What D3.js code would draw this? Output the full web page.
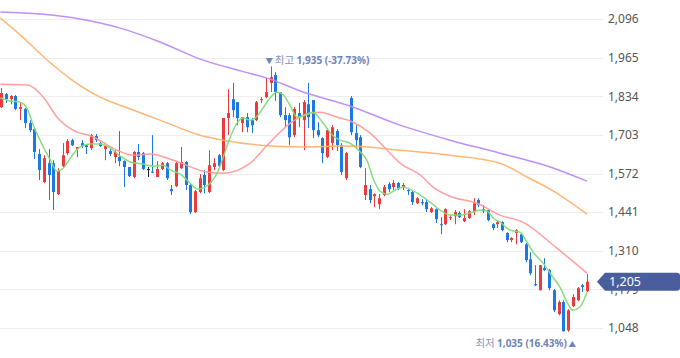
<!DOCTYPE html>
<html><head><meta charset="utf-8">
<script src="https://cdn.jsdelivr.net/npm/d3@7"></script>
<style>body{margin:0;background:#fff;overflow:hidden} svg{display:block}</style>
</head><body><svg id="c" width="680" height="358"></svg>
<script>
// ---- data (OHLC per session) ----
const openV  = [1797,1841,1824,1835,1791,1791,1743,1723,1638,1543,1607,1607,1502,1597,1641,1685,1655,1675,1668,1658,1699,1675,1655,1648,1628,1628,1614,1594,1560,1645,1641,1587,1578,1560,1587,1607,1519,1529,1590,1611,1533,1441,1509,1567,1509,1594,1634,1584,1760,1824,1814,1743,1763,1753,1753,1821,1831,1879,1906,1848,1770,1770,1702,1777,1753,1807,1821,1719,1692,1628,1675,1716,1668,1556,1828,1709,1695,1499,1519,1495,1468,1499,1536,1526,1540,1526,1516,1509,1471,1475,1475,1441,1451,1400,1400,1421,1427,1438,1410,1421,1441,1482,1451,1448,1400,1400,1407,1370,1346,1370,1366,1332,1281,1197,1176,1251,1244,1176,1095,1136,1040,1122,1142,1193,1173];
const highV  = [1862,1845,1838,1838,1811,1794,1753,1726,1655,1634,1655,1617,1590,1675,1689,1689,1662,1685,1672,1706,1706,1679,1668,1658,1651,1716,1617,1594,1648,1672,1645,1594,1702,1614,1611,1611,1533,1611,1662,1614,1536,1516,1570,1584,1651,1624,1638,1760,1858,1879,1814,1763,1777,1760,1818,1831,1896,1935,1916,1848,1797,1777,1797,1811,1821,1879,1821,1746,1695,1726,1736,1723,1675,1645,1835,1736,1702,1590,1533,1505,1502,1533,1543,1550,1543,1540,1519,1512,1492,1485,1485,1458,1454,1424,1454,1431,1448,1444,1451,1448,1488,1488,1465,1448,1404,1414,1410,1373,1356,1383,1370,1336,1305,1261,1261,1285,1248,1180,1142,1142,1112,1163,1187,1197,1231];
const lowV   = [1794,1811,1807,1787,1753,1726,1712,1621,1550,1539,1482,1448,1499,1594,1634,1665,1628,1658,1638,1651,1679,1662,1617,1631,1607,1597,1526,1560,1556,1617,1584,1560,1573,1560,1584,1550,1499,1526,1587,1516,1434,1438,1505,1505,1505,1584,1594,1580,1702,1763,1736,1712,1712,1709,1750,1811,1828,1848,1818,1763,1729,1668,1695,1729,1651,1726,1692,1695,1607,1624,1651,1648,1567,1550,1702,1658,1590,1482,1471,1458,1451,1495,1509,1516,1516,1516,1499,1465,1468,1465,1441,1438,1404,1366,1397,1414,1400,1421,1407,1417,1431,1458,1438,1410,1380,1387,1376,1339,1339,1332,1336,1271,1227,1190,1176,1241,1176,1102,1091,1036,1035,1119,1139,1170,1170];
const closeV = [1845,1824,1835,1791,1797,1743,1719,1645,1584,1624,1567,1509,1580,1634,1682,1668,1662,1665,1662,1702,1685,1665,1665,1638,1645,1614,1594,1563,1645,1628,1587,1587,1575,1587,1607,1556,1512,1607,1611,1533,1441,1512,1556,1533,1600,1607,1597,1760,1777,1787,1760,1763,1729,1736,1814,1824,1848,1899,1848,1770,1753,1695,1791,1763,1814,1763,1719,1702,1641,1719,1729,1668,1577,1641,1712,1685,1594,1533,1482,1502,1488,1526,1519,1540,1522,1533,1512,1475,1488,1471,1451,1454,1417,1397,1451,1424,1441,1424,1421,1444,1471,1465,1444,1414,1387,1407,1380,1346,1353,1380,1339,1278,1234,1193,1261,1244,1183,1108,1136,1037,1108,1153,1183,1187,1205];

// moving averages: [session index, value]
const ma5 = [[-0.2,1828],[1.9,1818],[4,1814],[5.5,1791],[6.8,1735],[8.9,1662],[10.4,1617],[11.8,1580],[13.1,1590],[14.6,1624],[16.7,1662],[18.8,1672],[20.9,1672],[23.1,1658],[25.2,1631],[27.3,1611],[30,1604],[32.2,1597],[34.3,1600],[35.8,1584],[37.9,1570],[40,1539],[41.5,1519],[43.2,1526],[44.6,1546],[45.7,1573],[47,1628],[48.5,1696],[49.9,1743],[51.2,1760],[52.7,1753],[54.2,1767],[55.4,1794],[56.9,1828],[58.4,1848],[59.7,1838],[61.2,1801],[62.6,1763],[63.9,1767],[66,1780],[68.1,1743],[70.3,1699],[71.7,1685],[73.8,1675],[76,1645],[77.4,1617],[78.7,1556],[80.2,1512],[81.7,1502],[83.4,1516],[85.1,1526],[86.5,1519],[88.7,1499],[90.8,1475],[92.9,1448],[95,1431],[97.1,1431],[99.2,1438],[101.4,1448],[102.9,1444],[104.1,1421],[105.6,1407],[107.7,1380],[109.8,1373],[111.3,1339],[112.6,1305],[114.7,1268],[116.8,1220],[118.3,1186],[119.8,1135],[121,1108],[122.5,1119],[124,1169]];
const ma20 = [[-0.2,1875],[5.5,1872],[8.9,1831],[11.8,1763],[15.2,1719],[19.5,1696],[24.5,1651],[27.9,1634],[31.5,1638],[36.4,1617],[43.6,1577],[47,1573],[52.7,1607],[56.3,1668],[61.2,1743],[65.4,1777],[67.5,1780],[71.1,1763],[74.5,1746],[78.1,1709],[81.7,1651],[84.4,1607],[88.7,1567],[91.4,1526],[95,1495],[100.7,1471],[105.6,1431],[110.4,1407],[117.6,1319],[124,1234]];
const ma60 = [[-0.2,2099],[4,2042],[9.7,1957],[15,1889],[20.9,1831],[27.3,1791],[33.6,1753],[42.1,1702],[47,1685],[54.8,1668],[63.3,1662],[73.8,1665],[84.4,1651],[95,1634],[105.6,1607],[111.3,1560],[116.2,1519],[124,1434]];
const ma120 = [[-0.2,2120],[8.3,2113],[16.7,2096],[25.2,2065],[33.6,2018],[42.1,1960],[50.6,1920],[56.9,1892],[63.3,1852],[73.8,1801],[84.4,1736],[95,1685],[105.6,1641],[116.2,1594],[124,1546]];

const yTicks = [2096,1965,1834,1703,1572,1441,1310,1179,1048];
const lastPrice = 1205;
const highIdx = 57, highVal = 1935, highPct = "-37.73%";
const lowIdx = 120, lowVal = 1035, lowPct = "16.43%";

// ---- drawing ----
const svg = d3.select("#c");
const W = 680, H = 358;
const x = d3.scaleLinear().domain([0, openV.length - 1]).range([1.3, 587]);
const y = d3.scaleLinear().domain([1048, 2096]).range([328, 19]);
const fmt = d3.format(",");

const UP = "#ec3a3f", DOWN = "#1b78e4", FLAT = "#222";

// grid
svg.append("g").selectAll("line").data(yTicks).join("line")
  .attr("x1", 0).attr("x2", 603)
  .attr("y1", d => Math.round(y(d)) + 0.5).attr("y2", d => Math.round(y(d)) + 0.5)
  .attr("stroke", "#eeeeee").attr("stroke-width", 1);

// axis labels
const axis = d3.axisRight(y).tickValues(yTicks).tickFormat(fmt).tickSize(0).tickPadding(0);
const ag = svg.append("g").attr("transform", "translate(608,0)").call(axis);
ag.select(".domain").remove();
ag.selectAll("text").attr("fill", "#555").style("font-family", "'Noto Sans', 'DejaVu Sans', sans-serif").style("font-size", "12px");

const plot = svg.append("g");
plot.append("clipPath").attr("id", "pc").append("rect").attr("x", 0).attr("y", 0).attr("width", 595).attr("height", H);
const pg = plot.append("g").attr("clip-path", "url(#pc)");

// candles
const idx = d3.range(openV.length);
const cg = pg.append("g");
idx.forEach(i => {
  const o = openV[i], c = closeV[i], h = highV[i], l = lowV[i];
  const col = c > o ? UP : (c < o ? DOWN : FLAT);
  const cx = Math.round(x(i));
  cg.append("line").attr("x1", cx + 0.5).attr("x2", cx + 0.5)
    .attr("y1", y(h)).attr("y2", y(l)).attr("stroke", col).attr("stroke-width", 1);
  const top = y(Math.max(o, c)), bot = y(Math.min(o, c));
  cg.append("rect").attr("x", cx - 1).attr("width", 3)
    .attr("y", top).attr("height", Math.max(1, bot - top)).attr("fill", col);
});

// moving averages
const line = d3.line().x(d => x(d[0])).y(d => y(d[1])).curve(d3.curveMonotoneX);
const maDefs = [
  [ma120, "#b98af7"],
  [ma60, "#ffb26e"],
  [ma20, "#ff9a9a"],
  [ma5, "#7fdc78"]
];
maDefs.forEach(([d, col]) => {
  pg.append("path").datum(d).attr("d", line).attr("fill", "none")
    .attr("stroke", col).attr("stroke-width", 1.5).attr("stroke-opacity", 0.95);
});

// high / low annotations
const ANN = "#6f82b9", ANN2 = "#8692b8";
const af = "'Noto Sans CJK KR', 'Noto Sans', sans-serif";
const nf = "'Noto Sans', 'Open Sans', sans-serif";
const ht = svg.append("text").attr("x", x(highIdx) - 5).attr("y", y(highVal) - 2)
  .attr("fill", ANN).style("font-family", af).style("font-size", "10.5px");
ht.append("tspan").text("▼ ").style("font-size", "7.5px");
ht.append("tspan").text("최고 ").attr("fill", ANN2);
ht.append("tspan").text(`${fmt(highVal)} (${highPct})`).style("font-weight", "bold").style("font-family", nf).style("font-size", "10px");

const lt = svg.append("text").attr("x", x(lowIdx) + 8).attr("y", y(lowVal) + 15)
  .attr("text-anchor", "end")
  .attr("fill", ANN).style("font-family", af).style("font-size", "10.5px");
lt.append("tspan").text("최저 ").attr("fill", ANN2);
lt.append("tspan").text(`${fmt(lowVal)} (${lowPct})`).style("font-weight", "bold").style("font-family", nf).style("font-size", "10px");
lt.append("tspan").text(" ▲").style("font-size", "7.5px");

// last price marker
const py = y(lastPrice);
svg.append("path")
  .attr("d", `M597,${py} L605,${py - 9} L677,${py - 9} Q680,${py - 9} 680,${py - 6} L680,${py + 6} Q680,${py + 9} 677,${py + 9} L605,${py + 9} Z`)
  .attr("fill", "#4a5e9e");
svg.append("text").attr("x", 609).attr("y", py).attr("dy", "0.36em")
  .attr("fill", "#fff").style("font-family", "'Noto Sans', sans-serif").style("font-size", "12.5px")
  .text(fmt(lastPrice));
</script>
</body></html>
